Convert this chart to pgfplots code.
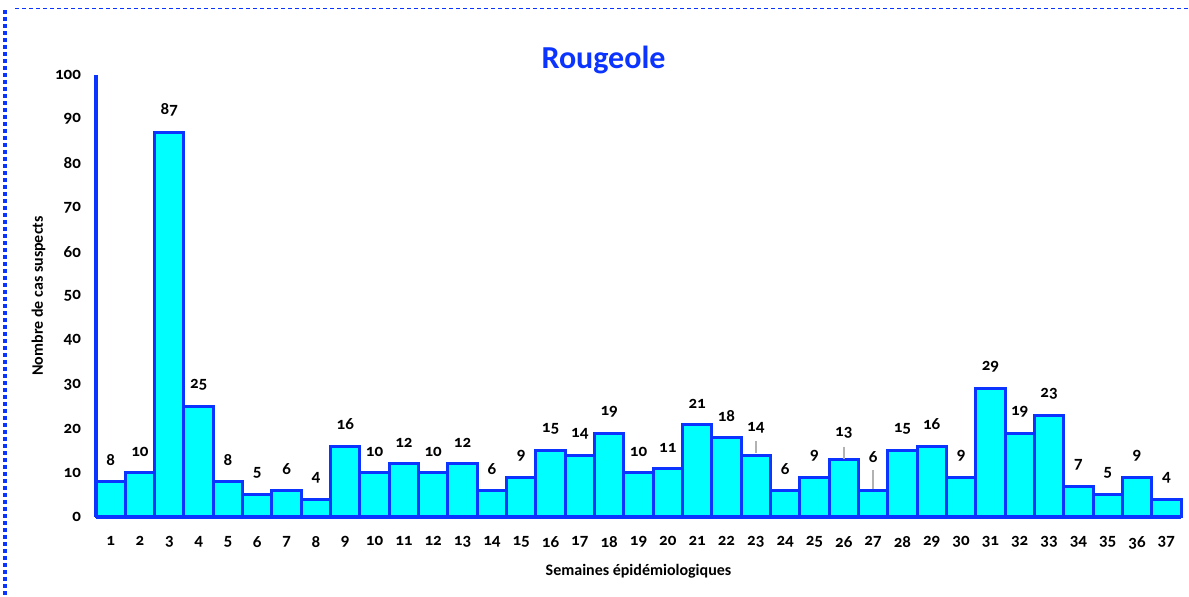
\documentclass[border=0pt]{standalone}
\usepackage{fontspec}
\setmainfont{Carlito}[Numbers=OldStyle]
\usepackage{pgfplots}
\pgfplotsset{compat=1.18}
\definecolor{rblue}{RGB}{12,52,255}
\definecolor{rcyan}{RGB}{0,255,255}
\tikzset{leader/.style={pin={[pin distance=#1,inner sep=0pt,pin edge={draw=black!30,line width=0.8pt}]below:{}}}}

\begin{document}
\begin{tikzpicture}[x=0.5pt,y=0.5pt]
\path[use as bounding box] (0,0) rectangle (1189,597);
% frame of the chart area
\draw[rblue,line width=0.5pt,dash pattern=on 2pt off 1.5pt] (15,588) -- (1189,588);
\draw[rblue,line width=2pt,dash pattern=on 2pt off 1.5pt] (5,587) -- (5,0);
\begin{axis}[
  at={(48pt,40pt)},anchor=origin,
  scale only axis,width=542.5pt,height=221pt,
  ybar,bar width=1,
  xmin=0.5,xmax=37.5,ymin=0,ymax=100,
  axis x line=bottom,axis y line=left,
  axis line style={rblue,line width=2pt,-},
  xtick={1,...,37},ytick={0,10,...,100},
  major tick length=0pt,
  tick label style={font=\bfseries\fontsize{8.5}{9}\selectfont,text=black},
  /pgf/number format/assume math mode=true,
  xticklabel style={yshift=-6pt},
  yticklabel style={xshift=-4pt},
  ylabel={Nombre de cas suspects},
  ylabel style={font=\bfseries\fontsize{8}{9}\selectfont,yshift=-2pt},
  xlabel={Semaines épidémiologiques},
  xlabel style={font=\bfseries\fontsize{8}{9}\selectfont,yshift=-1pt},
  title={Rougeole},
  title style={font=\bfseries\fontsize{16}{18}\selectfont,text=rblue,yshift=-9pt,xshift=-17.5pt},
  nodes near coords,
  nodes near coords style={font=\bfseries\fontsize{8.5}{9}\selectfont,text=black,anchor=south,yshift=4pt,/pgf/number format/assume math mode=true},
  point meta=y,
  clip=false,
]
\addplot[draw=rblue,fill=rcyan,line width=1.5pt,
  coordinate style/.condition={x==23}{yshift=3pt,leader=6pt},
  coordinate style/.condition={x==26}{yshift=2.5pt,leader=6pt},
  coordinate style/.condition={x==27}{yshift=6pt,leader=9.5pt},
] coordinates {
  (1,8) (2,10) (3,87) (4,25) (5,8) (6,5) (7,6) (8,4) (9,16) (10,10)
  (11,12) (12,10) (13,12) (14,6) (15,9) (16,15) (17,14) (18,19) (19,10) (20,11)
  (21,21) (22,18) (23,14) (24,6) (25,9) (26,13) (27,6) (28,15) (29,16) (30,9)
  (31,29) (32,19) (33,23) (34,7) (35,5) (36,9) (37,4)
};
\end{axis}
\end{tikzpicture}
\end{document}
